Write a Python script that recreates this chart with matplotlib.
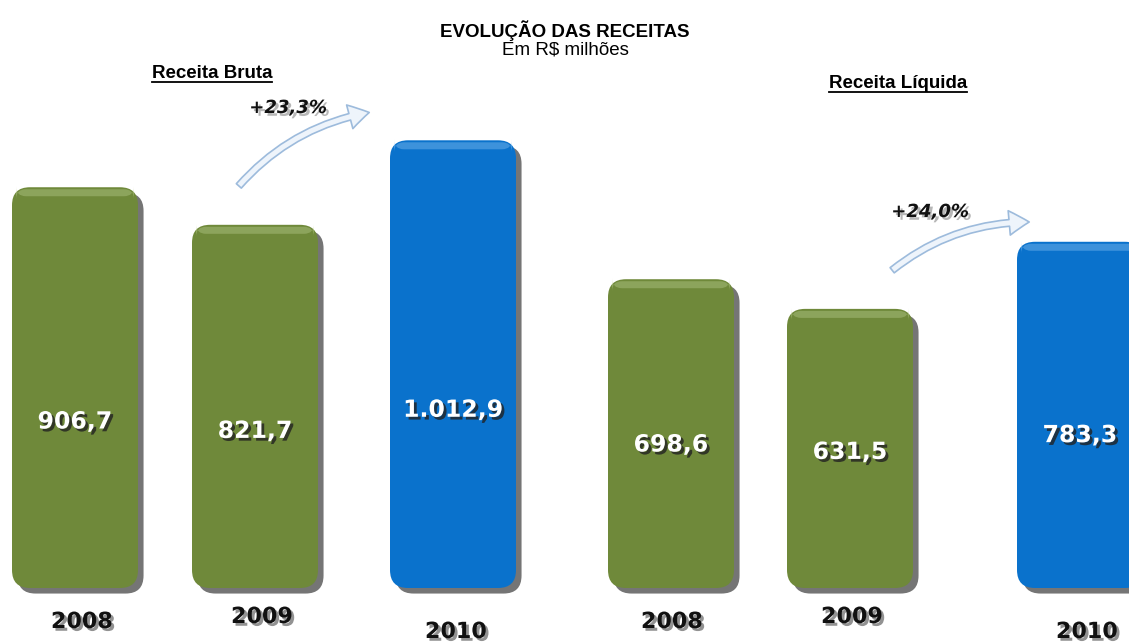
import matplotlib
matplotlib.use("Agg")
import matplotlib.pyplot as plt
import matplotlib.patheffects as pe
from matplotlib.patches import FancyBboxPatch, FancyArrowPatch
from matplotlib.lines import Line2D
from matplotlib.transforms import IdentityTransform

# data
years = ["2008", "2009", "2010"]
receita_bruta = [906.7, 821.7, 1012.9]
receita_liquida = [698.6, 631.5, 783.3]
growth_labels = ["+23,3%", "+24,0%"]
value_labels_bruta = ["906,7", "821,7", "1.012,9"]
value_labels_liquida = ["698,6", "631,5", "783,3"]

W, H = 1129, 643
BASE = 588          # pixel row of bar baseline
SCALE = 0.442       # pixels per R$ million
GREEN = "#6f893a"
BLUE = "#0a72cc"

fig = plt.figure(figsize=(W / 100, H / 100), dpi=100)
ax = fig.add_axes([0, 0, 1, 1])
ax.set_xlim(0, W)
ax.set_ylim(-(H - BASE) / SCALE, BASE / SCALE)
ax.axis("off")
aspect = 1 / SCALE


def fpos(x, y):
    return x / W, 1 - y / H


def rounded_bar(x0, width, value, color, light):
    shadow = [pe.SimplePatchShadow(offset=(4, -4), shadow_rgbFace="#1a1a1a", alpha=0.6), pe.Normal()]
    bar = FancyBboxPatch((x0, 0), width, value,
                         boxstyle="round,pad=0,rounding_size=18",
                         mutation_aspect=aspect, fc=color, ec="none",
                         path_effects=shadow, zorder=2)
    ax.add_patch(bar)
    # soft highlight on the top edge
    hl = FancyBboxPatch((x0 + 4, value - 9 / SCALE), width - 8, 7 / SCALE,
                        boxstyle="round,pad=0,rounding_size=10",
                        mutation_aspect=aspect, fc=light, ec="none",
                        alpha=0.35, zorder=3)
    ax.add_patch(hl)


bar_w = 126
groups = [
    (receita_bruta, value_labels_bruta, [12, 192, 390], [82, 262, 456], [622, 617, 632]),
    (receita_liquida, value_labels_liquida, [608, 787, 1017], [672, 852, 1087], [622, 617, 632]),
]

num_fx = [pe.withSimplePatchShadow(offset=(2, -2), shadow_rgbFace="#222222", alpha=0.8)]
year_fx = [pe.withSimplePatchShadow(offset=(2, -2), shadow_rgbFace="#777777", alpha=0.8)]

for vals, labels, xs, yx, yy in groups:
    for i, (v, lab, x0) in enumerate(zip(vals, labels, xs)):
        last = i == len(vals) - 1
        rounded_bar(x0, bar_w, v, BLUE if last else GREEN, "#9fd0f8" if last else "#c5d79c")
        ax.text(x0 + bar_w / 2, 0.25 * v + 150, lab, ha="center", va="center",
                color="white", fontsize=17, fontweight="bold",
                path_effects=num_fx, zorder=4)
    for yr, cx, cy in zip(years, yx, yy):
        fig.text(*fpos(cx, cy), yr, ha="center", va="center", fontsize=16,
                 fontweight="bold", color="#111111", path_effects=year_fx)

# titles
fig.text(*fpos(565, 31), "EVOLUÇÃO DAS RECEITAS", ha="center", va="center",
         fontsize=13.5, fontweight="bold", family="Liberation Sans")
fig.text(*fpos(565, 50), "Em R$ milhões", ha="center", va="center",
         fontsize=13.5, family="Liberation Sans")
subtitles = [
    fig.text(*fpos(212, 74), "Receita Bruta", ha="center", va="center",
             fontsize=13.5, fontweight="bold", family="Liberation Sans"),
    fig.text(*fpos(898, 84), "Receita Líquida", ha="center", va="center",
             fontsize=13.5, fontweight="bold", family="Liberation Sans"),
]
fig.canvas.draw()
r = fig.canvas.get_renderer()
for t in subtitles:
    bb = t.get_window_extent(r)
    fig.add_artist(Line2D([bb.x0, bb.x1], [bb.y0 + 1, bb.y0 + 1], color="black",
                          lw=1.3, transform=IdentityTransform()))

# growth arrows
arrows = [((237, 188), (372, 112), (288, 108)), ((890, 272), (1032, 222), (930, 212))]
for (a, b, tpos), lab in zip(arrows, growth_labels):
    arr = FancyArrowPatch(fpos(*a), fpos(*b), transform=fig.transFigure,
                          connectionstyle="arc3,rad=-0.18",
                          arrowstyle="simple,head_length=0.9,head_width=1.1,tail_width=0.3",
                          mutation_scale=16, fc="#eef4fb", ec="#9dbbdc", lw=1.2)
    fig.add_artist(arr)
    fig.text(*fpos(*tpos), lab, ha="center", va="center", fontsize=13,
             fontweight="bold", style="italic", color="#111111",
             path_effects=[pe.withSimplePatchShadow(offset=(2, -2), shadow_rgbFace="#999999", alpha=0.7)])

fig.savefig("out.png", dpi=100)
